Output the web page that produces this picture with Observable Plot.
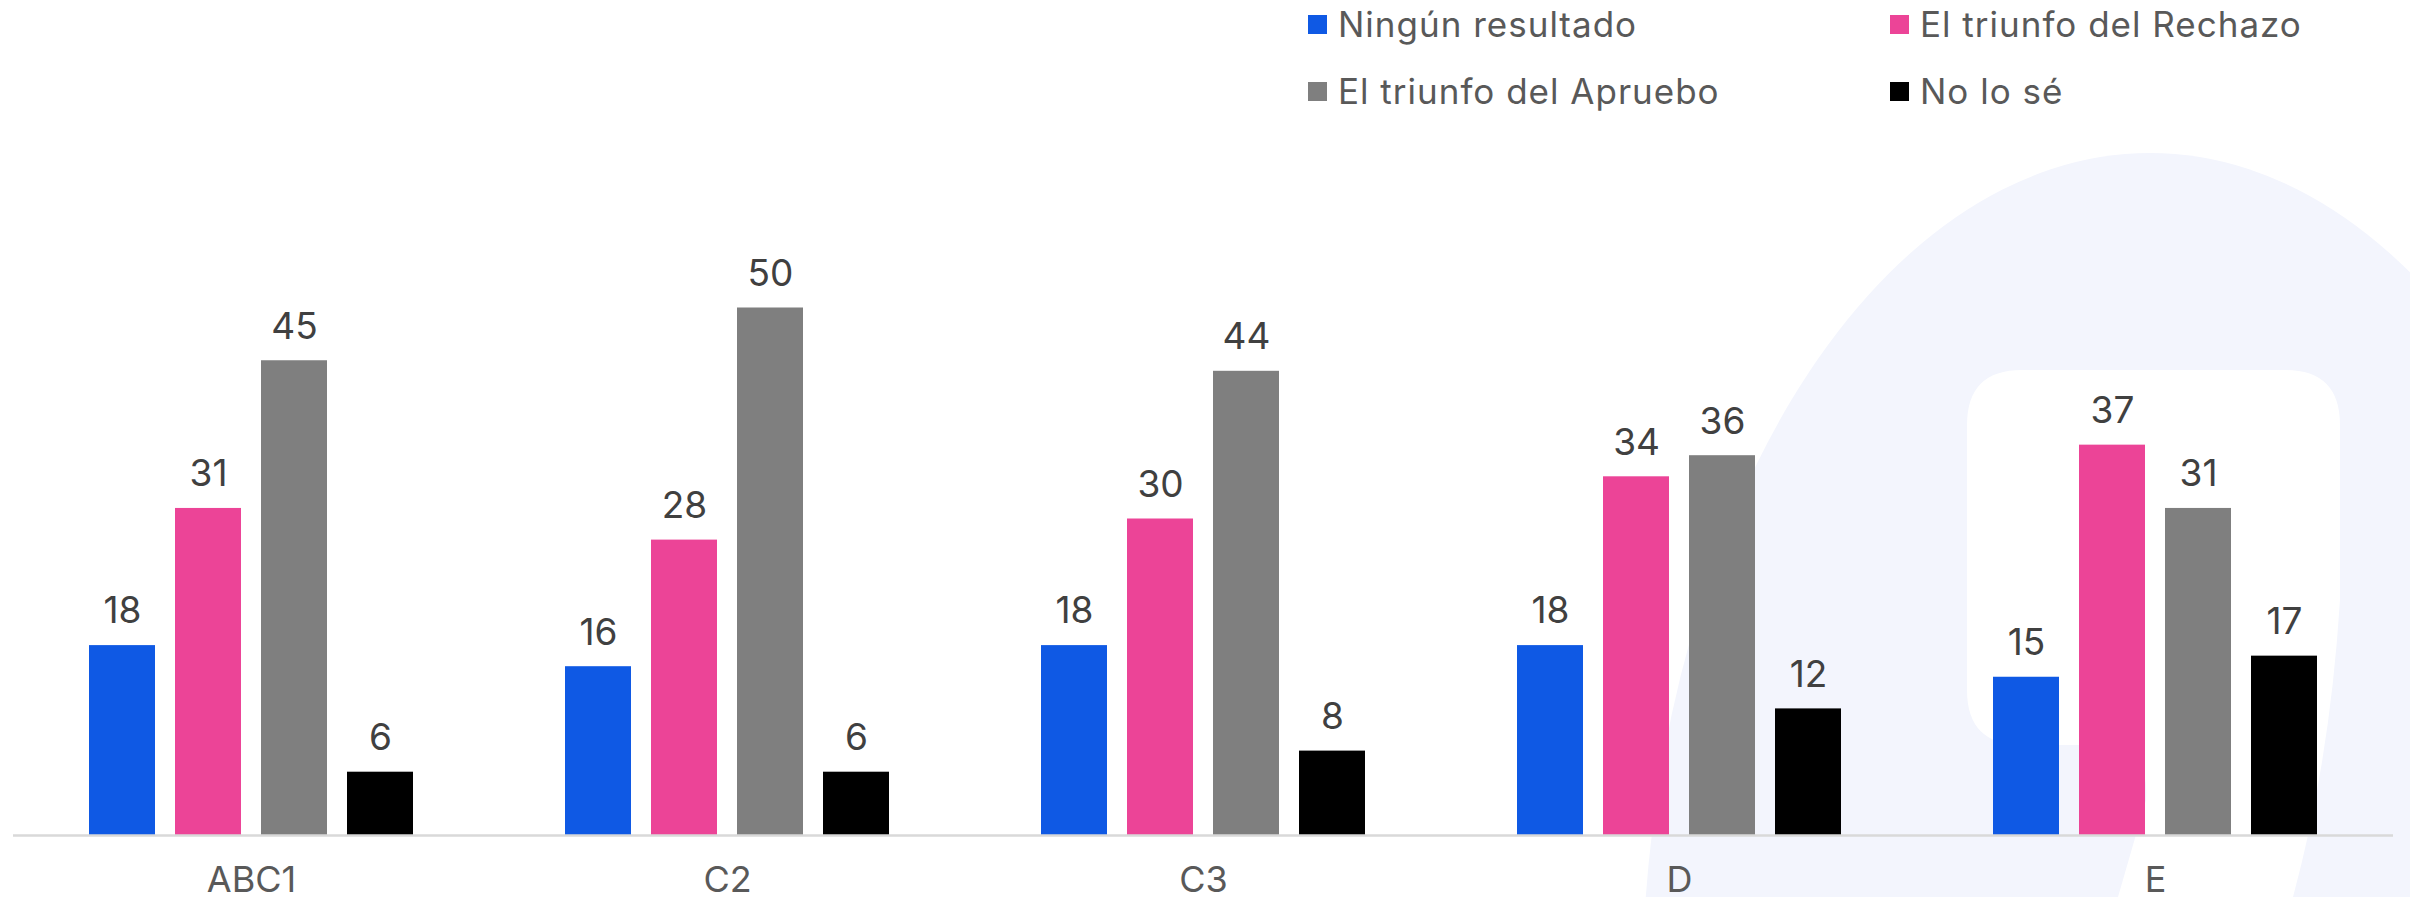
<!DOCTYPE html>
<html><head><meta charset="utf-8">
<script src="https://cdn.jsdelivr.net/npm/d3@7"></script>
<script src="https://cdn.jsdelivr.net/npm/@observablehq/plot@0.6"></script>
<style>
body{margin:0;background:#fff;font-family:Inter,"Noto Sans",sans-serif;}
#wrap{position:relative;width:2410px;height:897px;overflow:hidden;}
#deco,#chart{position:absolute;left:0;top:0;}
.leg{position:absolute;height:40px;font-size:35px;letter-spacing:1px;color:#595959;display:flex;align-items:center;white-space:nowrap;}
.sw{display:inline-block;width:19px;height:19px;margin-right:11px;}
</style></head>
<body><div id="wrap">
<svg id="deco" width="2410" height="897">
  <ellipse cx="2150" cy="1000" rx="508" ry="847" fill="#F3F5FD"/>
  <path d="M2022 370 H2285 Q2340 370 2340 425 V600 Q2330 760 2293 897 H2118 L2146 800 Q2150 745 2100 745 H2022 Q1967 745 1967 690 V425 Q1967 370 2022 370 Z" fill="#ffffff"/>
</svg>
<div id="chart"></div>
<div id="legend"></div>
</div>
<script>
const categories = ["ABC1", "C2", "C3", "D", "E"];
const series = ["Ningún resultado", "El triunfo del Rechazo", "El triunfo del Apruebo", "No lo sé"];
const ningun  = [18, 16, 18, 18, 15];
const rechazo = [31, 28, 30, 34, 37];
const apruebo = [45, 50, 44, 36, 31];
const nolose  = [6, 6, 8, 12, 17];
const colors = ["#0F59E4", "#EC4497", "#7F7F7F", "#000000"];

const values = [ningun, rechazo, apruebo, nolose];
const data = [];
categories.forEach((c, i) => values.forEach((arr, j) => data.push({cat: c, series: series[j], value: arr[i]})));

const plot = Plot.plot({
  width: 2410, height: 897,
  marginLeft: 13, marginRight: 17, marginTop: 307.5, marginBottom: 62,
  style: {background: "transparent", fontFamily: "Inter, 'Noto Sans', sans-serif", overflow: "visible"},
  fx: {domain: categories, padding: 0, label: null},
  x: {domain: series, paddingInner: 0.227, paddingOuter: 0.865, axis: null},
  y: {domain: [0, 50], axis: null},
  color: {domain: series, range: colors},
  marks: [
    Plot.barY(data, {fx: "cat", x: "series", y: "value", fill: "series"}),
    Plot.ruleY([0], {stroke: "#D9D9D9", strokeWidth: 2.5}),
    Plot.text(data, {fx: "cat", x: "series", y: "value", text: d => String(d.value), dy: -34, fontSize: 37, fill: "#404040"}),
    Plot.axisFx({anchor: "bottom", tickSize: 0, tickPadding: 31, fontSize: 36, color: "#595959", label: null})
  ]
});
document.getElementById("chart").appendChild(plot);

const legPos = [[1308, 4], [1890, 4], [1308, 71], [1890, 71]];
const leg = document.getElementById("legend");
series.forEach((s, i) => {
  const d = document.createElement("div");
  d.className = "leg";
  d.style.left = legPos[i][0] + "px";
  d.style.top = legPos[i][1] + "px";
  const sw = document.createElement("span");
  sw.className = "sw";
  sw.style.background = colors[i];
  d.appendChild(sw);
  d.appendChild(document.createTextNode(s));
  leg.appendChild(d);
});
</script>
</body></html>
